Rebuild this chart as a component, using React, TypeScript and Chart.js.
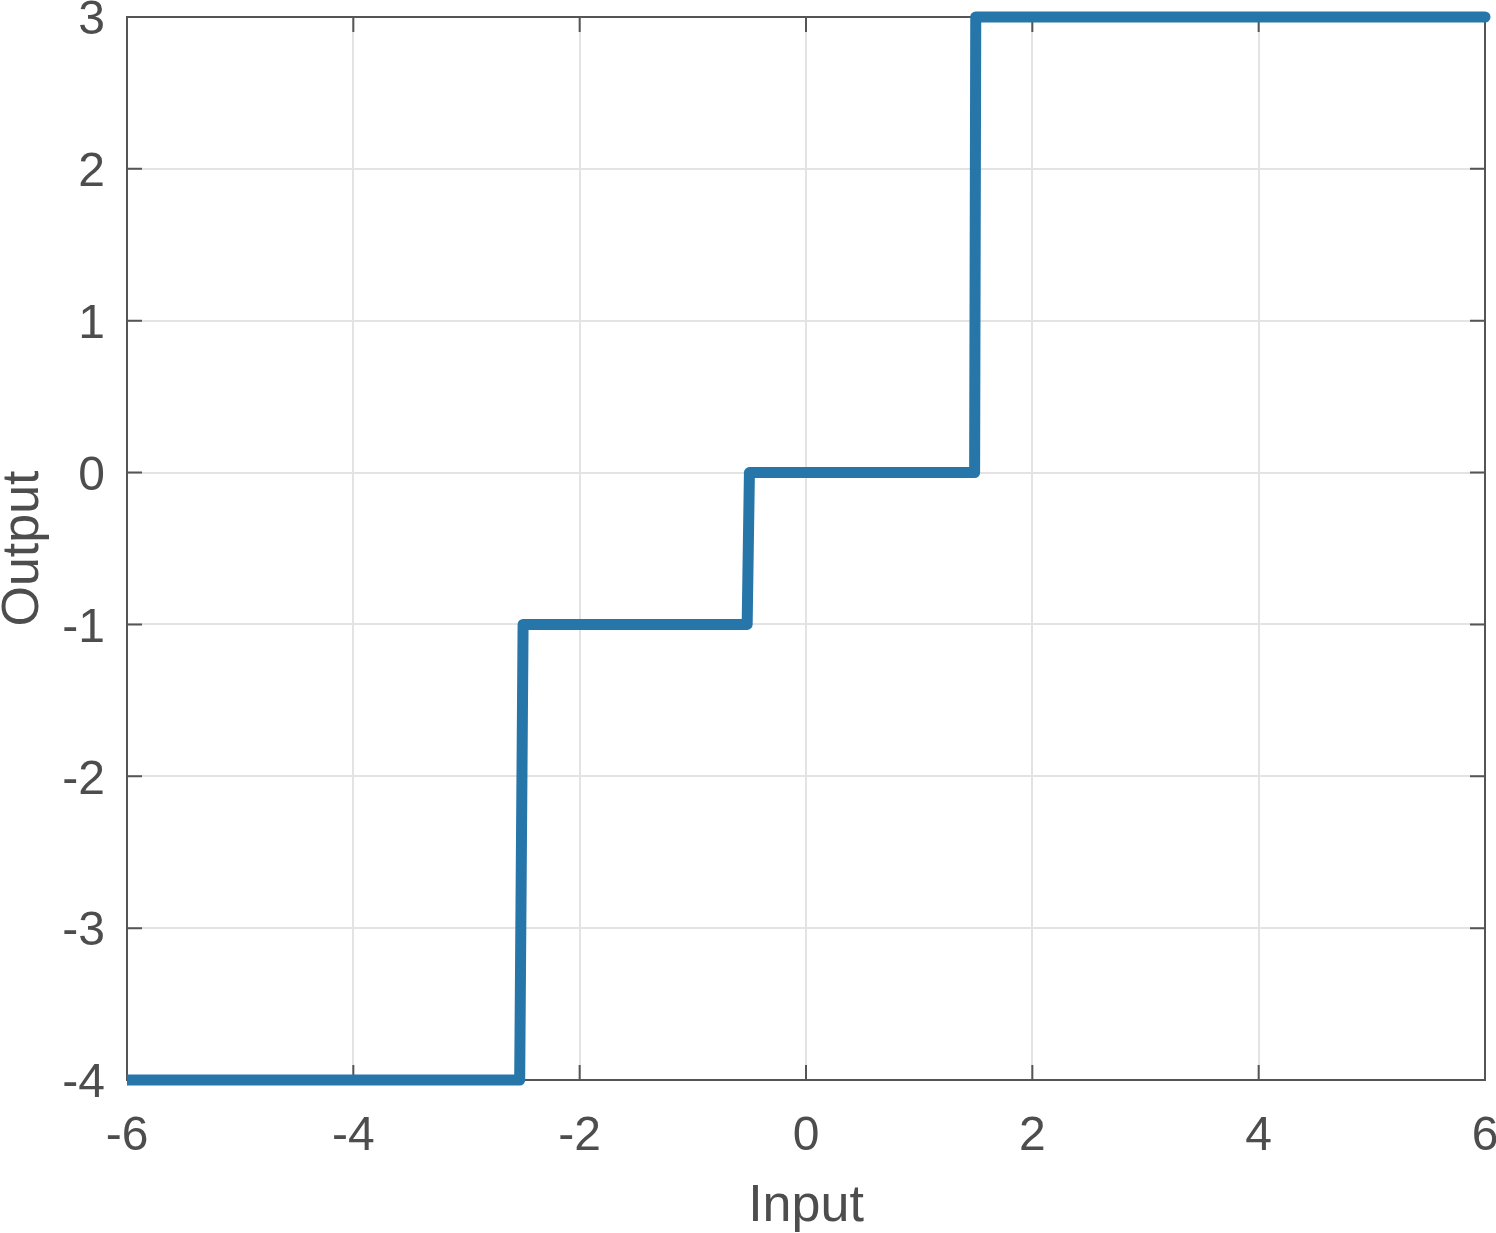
import React, { useEffect, useRef } from "react";
import { Chart, registerables } from "chart.js";

Chart.register(...registerables);

const inputValues = [-6, -2.53, -2.5, -0.52, -0.5, 1.49, 1.5, 6];
const outputValues = [-4, -4, -1, -1, 0, 0, 3, 3];
const xTickValues = [-6, -4, -2, 0, 2, 4, 6];
const yTickValues = [-4, -3, -2, -1, 0, 1, 2, 3];

const TEXT = "#4d4d4d";
const AXIS = "#555555";
const GRID = "#e3e3e3";
const LINE = "#2676aa";
const FONT = "'Liberation Sans', Arial, Helvetica, sans-serif";

const boxPlugin = {
  id: "matlabBox",
  beforeDatasetsDraw(chart: any) {
    const { ctx, chartArea } = chart;
    const { left, right, top, bottom } = chartArea;
    const xs = chart.scales.x;
    const ys = chart.scales.y;
    const tl = 15;
    ctx.save();
    ctx.strokeStyle = AXIS;
    ctx.lineWidth = 2;
    ctx.beginPath();
    ctx.rect(left, top, right - left, bottom - top);
    ctx.stroke();
    ctx.beginPath();
    for (const v of xTickValues) {
      const px = xs.getPixelForValue(v);
      ctx.moveTo(px, bottom);
      ctx.lineTo(px, bottom - tl);
      ctx.moveTo(px, top);
      ctx.lineTo(px, top + tl);
    }
    for (const v of yTickValues) {
      const py = ys.getPixelForValue(v);
      ctx.moveTo(left, py);
      ctx.lineTo(left + tl, py);
      ctx.moveTo(right, py);
      ctx.lineTo(right - tl, py);
    }
    ctx.stroke();
    ctx.restore();
  },
};

export default function App() {
  const ref = useRef<HTMLCanvasElement | null>(null);

  useEffect(() => {
    document.body.style.margin = "0";
    const canvas = ref.current;
    if (!canvas) return;
    const data = inputValues.map((x, i) => ({ x, y: outputValues[i] }));
    const chart = new Chart(canvas, {
      type: "scatter",
      data: {
        datasets: [
          {
            data,
            showLine: true,
            borderColor: LINE,
            backgroundColor: LINE,
            borderWidth: 11,
            borderCapStyle: "round",
            borderJoinStyle: "round",
            pointRadius: 0,
            pointHoverRadius: 0,
            clip: { left: 0, top: 10, right: 10, bottom: 10 } as any,
          } as any,
        ],
      },
      options: {
        animation: false,
        responsive: false,
        devicePixelRatio: 1,
        events: [],
        layout: { padding: { top: 17, right: 11, left: 0, bottom: 0 } },
        plugins: {
          legend: { display: false },
          tooltip: { enabled: false },
        },
        scales: {
          x: {
            type: "linear",
            min: -6,
            max: 6,
            afterBuildTicks: (scale: any) => {
              scale.ticks = xTickValues.map((v) => ({ value: v }));
            },
            afterFit: (scale: any) => {
              scale.height = 153;
              scale.paddingLeft = 0;
              scale.paddingRight = 0;
            },
            grid: { color: GRID, lineWidth: 2, drawTicks: false, tickLength: 0 },
            border: { display: false },
            ticks: {
              color: TEXT,
              font: { family: FONT, size: 48 },
              padding: 28,
              maxRotation: 0,
              autoSkip: false,
            },
            title: {
              display: true,
              text: "Input",
              color: TEXT,
              font: { family: FONT, size: 52, lineHeight: 1 },
              padding: { top: 0, bottom: 0 },
            },
          },
          y: {
            type: "linear",
            min: -4,
            max: 3,
            afterBuildTicks: (scale: any) => {
              scale.ticks = yTickValues.map((v) => ({ value: v }));
            },
            afterFit: (scale: any) => {
              scale.width = 127;
              scale.paddingTop = 0;
              scale.paddingBottom = 0;
            },
            grid: { color: GRID, lineWidth: 2, drawTicks: false, tickLength: 0 },
            border: { display: false },
            ticks: {
              color: TEXT,
              font: { family: FONT, size: 48, lineHeight: "8px" },
              padding: 22,
              autoSkip: false,
              callback: (v: any) => ["", String(v)],
            },
            title: {
              display: true,
              text: "Output",
              color: TEXT,
              font: { family: FONT, size: 52, lineHeight: 0.9 },
              padding: { top: 0, bottom: 0 },
            },
          },
        },
      },
      plugins: [boxPlugin],
    } as any);
    return () => chart.destroy();
  }, []);

  return (
    <div style={{ position: "absolute", left: 0, top: 0, width: 1496, height: 1233 }}>
      <canvas ref={ref} width={1496} height={1233} style={{ width: 1496, height: 1233, display: "block" }} />
    </div>
  );
}
